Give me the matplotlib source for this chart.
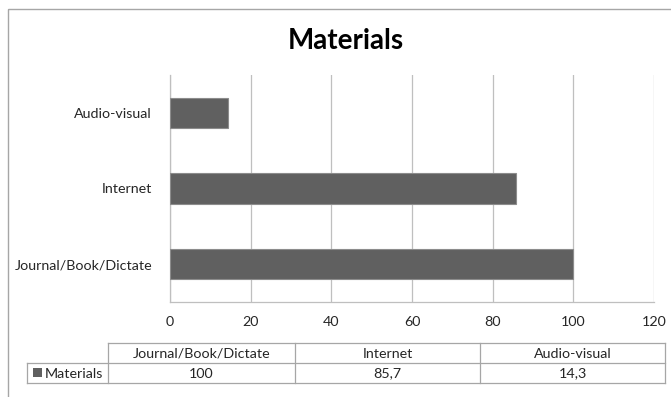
import matplotlib.pyplot as plt
import matplotlib.patches as patches

plt.rcParams['font.family'] = ['Lato', 'DejaVu Sans']

categories = ['Journal/Book/Dictate', 'Internet', 'Audio-visual']
values = [100, 85.7, 14.3]
value_labels = ['100', '85,7', '14,3']
series_name = 'Materials'
x_ticks = [0, 20, 40, 60, 80, 100, 120]

W, H = 671, 397
DPI = 100
BAR = '#606060'
GRID = '#bfbfbf'
TXT = '#262626'
FS = 10.3

fig = plt.figure(figsize=(W / DPI, H / DPI), dpi=DPI, facecolor='white')

# overlay in pixel coords for border, title and data table
ov = fig.add_axes([0, 0, 1, 1])
ov.set_xlim(0, W)
ov.set_ylim(H, 0)
ov.axis('off')
ov.add_patch(patches.Rectangle((8, 9), W, H, fill=False, edgecolor='#a6a6a6', lw=1.0))
ov.text(346, 41, series_name, fontsize=20, fontweight='bold', ha='center', va='center', color='black')

# ===== bar chart =====
x0, x1, y0, y1 = 170, 654, 75, 302
ax = fig.add_axes([x0 / W, 1 - y1 / H, (x1 - x0) / W, (y1 - y0) / H])
ax.barh(range(len(categories)), values, height=0.4, color=BAR, edgecolor='#8c8c8c', lw=0.8, zorder=3)
ax.set_xlim(0, 120)
ax.set_ylim(-0.5, len(categories) - 0.5)
ax.set_yticks(range(len(categories)))
ax.set_yticklabels(categories, fontsize=FS, color=TXT)
ax.set_xticks(x_ticks)
ax.set_xticklabels([str(t) for t in x_ticks], fontsize=FS, color=TXT)
ax.tick_params(length=0)
ax.tick_params(axis='x', pad=10)
ax.tick_params(axis='y', pad=13)
ax.grid(axis='x', color=GRID, lw=0.9, zorder=0)
for s in ['top', 'right']:
    ax.spines[s].set_visible(False)
for s in ['left', 'bottom']:
    ax.spines[s].set_color(GRID)
    ax.spines[s].set_linewidth(0.9)

# ===== data table =====
cols = [108, 295, 480, 665]
lab_x = 27
r0, r1, r2 = 343, 363, 383
lc = '#a6a6a6'
ov.plot([cols[0], cols[-1]], [r0, r0], color=lc, lw=0.9)
ov.plot([lab_x, cols[-1]], [r1, r1], color=lc, lw=0.9)
ov.plot([lab_x, cols[-1]], [r2, r2], color=lc, lw=0.9)
ov.plot([lab_x, lab_x], [r1, r2], color=lc, lw=0.9)
for c in cols:
    ov.plot([c, c], [r0, r2], color=lc, lw=0.9)
for i, cat in enumerate(categories):
    cx = (cols[i] + cols[i + 1]) / 2
    ov.text(cx, (r0 + r1) / 2 + 0.5, cat, fontsize=FS, ha='center', va='center', color=TXT)
    ov.text(cx, (r1 + r2) / 2 + 0.5, value_labels[i], fontsize=FS, ha='center', va='center', color=TXT)
ov.add_patch(patches.Rectangle((33, 368), 9, 9, facecolor=BAR, edgecolor='none'))
ov.text(45, (r1 + r2) / 2 + 0.5, series_name, fontsize=FS, ha='left', va='center', color=TXT)

fig.savefig('out.png', dpi=DPI, facecolor='white')
